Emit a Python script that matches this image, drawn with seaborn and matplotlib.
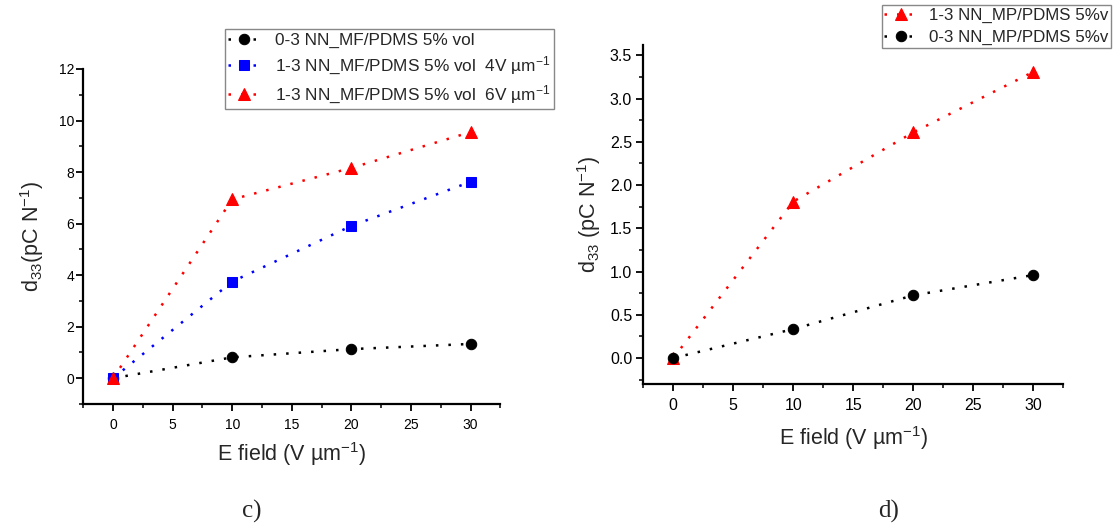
import matplotlib
matplotlib.use("Agg")
import matplotlib.pyplot as plt
from matplotlib.ticker import MultipleLocator, FormatStrFormatter
import seaborn as sns

# data
e_field = [0, 10, 20, 30]

# panel c)
c_labels = ["0-3 NN_MF/PDMS 5% vol",
            "1-3 NN_MF/PDMS 5% vol  4V µm$^{-1}$",
            "1-3 NN_MF/PDMS 5% vol  6V µm$^{-1}$"]
c_black = [0.0, 0.81, 1.13, 1.33]
c_blue = [0.0, 3.75, 5.91, 7.62]
c_red = [0.0, 6.94, 8.16, 9.55]

# panel d)
d_labels = ["1-3 NN_MP/PDMS 5%v", "0-3 NN_MP/PDMS 5%v"]
d_red = [0.0, 1.81, 2.61, 3.31]
d_black = [0.0, 0.335, 0.725, 0.96]

sns.set_style("ticks")
plt.rcParams["font.family"] = ["Liberation Sans", "DejaVu Sans"]
plt.rcParams["mathtext.fontset"] = "custom"
plt.rcParams["mathtext.rm"] = "Liberation Sans"
plt.rcParams["mathtext.it"] = "Liberation Sans:italic"
plt.rcParams["mathtext.default"] = "regular"

fig = plt.figure(figsize=(11.18, 5.29), dpi=100)
ax_c = fig.add_axes([0.0745, 0.2363, 0.373, 0.6333])
ax_d = fig.add_axes([0.5754, 0.2741, 0.3757, 0.6408])

styles = {"black": ("o", 7.5), "blue": ("s", 7), "red": ("^", 8.5)}


def draw(ax, values, color, label):
    marker, ms = styles[color]
    sns.lineplot(x=e_field, y=values, ax=ax, color=color, marker=marker,
                 markersize=ms, markeredgecolor=color, linestyle=(0, (1, 4)),
                 linewidth=1.8, label=label, legend=False)


draw(ax_c, c_black, "black", c_labels[0])
draw(ax_c, c_blue, "blue", c_labels[1])
draw(ax_c, c_red, "red", c_labels[2])

draw(ax_d, d_red, "red", d_labels[0])
draw(ax_d, d_black, "black", d_labels[1])


def style_axes(ax, ylim, ymajor, yminor, tick_fs, ylabel, ypad, xlpad, ylpad):
    sns.despine(ax=ax)
    ax.set_xlim(-2.5, 32.5)
    ax.set_ylim(*ylim)
    ax.xaxis.set_major_locator(MultipleLocator(5))
    ax.xaxis.set_minor_locator(MultipleLocator(2.5))
    ax.yaxis.set_major_locator(MultipleLocator(ymajor))
    ax.yaxis.set_minor_locator(MultipleLocator(yminor))
    ax.tick_params(which="major", direction="out", length=5, width=1.3,
                   labelsize=tick_fs, colors="black")
    ax.tick_params(which="minor", direction="out", length=3, width=1.1,
                   colors="black")
    ax.tick_params(axis="x", which="major", pad=5)
    ax.tick_params(axis="y", which="major", pad=ypad)
    for s in ("left", "bottom"):
        ax.spines[s].set_linewidth(1.6)
        ax.spines[s].set_color("black")
    ax.set_xlabel("E field (V µm$^{-1}$)", fontsize=15.5, labelpad=xlpad)
    ax.set_ylabel(ylabel, fontsize=15.5, labelpad=ylpad)


style_axes(ax_c, (-1, 12), 2, 1, 10, "d$_{33}$(pC N$^{-1}$)", 1.5, 6, 9)
style_axes(ax_d, (-0.3, 3.62), 0.5, 0.25, 11.5, "d$_{33}$ (pC N$^{-1}$)",
           3, 8, 5)
ax_d.yaxis.set_major_formatter(FormatStrFormatter("%.1f"))

h, l = ax_c.get_legend_handles_labels()
fig.legend(h, l, loc="upper left", bbox_to_anchor=(0.2013, 0.945),
           fontsize=12.4, frameon=True, fancybox=False, edgecolor="#888888",
           framealpha=1, labelspacing=0.4, handlelength=1.8,
           borderpad=0.2, handletextpad=0.9, borderaxespad=0)

h, l = ax_d.get_legend_handles_labels()
fig.legend(h, l, loc="upper left", bbox_to_anchor=(0.7886, 0.9905),
           fontsize=12.2, frameon=True, fancybox=False, edgecolor="#888888",
           framealpha=1, labelspacing=0.45, handlelength=2.0,
           borderpad=0.15, handletextpad=0.65, borderaxespad=0)

fig.text(0.2165, 0.022, "c)", fontsize=18, family="Liberation Serif")
fig.text(0.785, 0.022, "d)", fontsize=18, family="Liberation Serif")

fig.savefig("out.png", dpi=100)
